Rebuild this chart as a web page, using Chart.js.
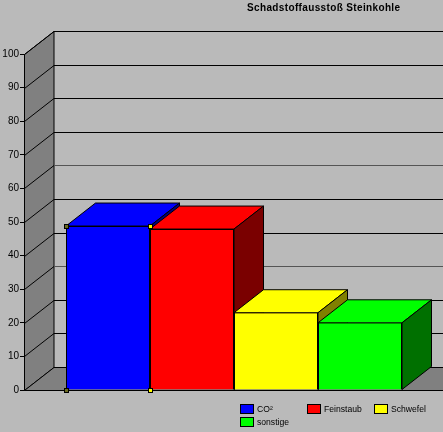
<!DOCTYPE html>
<html lang="de">
<head>
    <meta charset="UTF-8">
    <title>Schadstoffausstoß Steinkohle</title>
    <style>
      html, body { margin: 0; padding: 0; background: #bababa; overflow: hidden; }
      canvas { display: block; }
    </style>
</head>
<body>
    <canvas id="myChart" width="444" height="432"></canvas>

    <script src="https://cdn.jsdelivr.net/npm/chart.js"></script>
    <script>
      var chartTitle = 'Schadstoffausstoß Steinkohle';
      var categories = ['Steinkohle'];
      var seriesNames = ['CO²', 'Feinstaub', 'Schwefel', 'sonstige'];
      var seriesValues = [48.8, 47.9, 23, 20];
      var frontColors = ['#0000ff', '#ff0000', '#ffff00', '#00ff00'];
      var sideColors = ['#000080', '#7a0000', '#808000', '#007000'];
      var topEdgeColors = ['#000', '#000', '#a89800', '#009000'];

      // 3D look: how far the back wall sits from the front plane
      var depthX = 29.5;
      var depthY = 23;
      var wall = '#808080';
      // these two back wall lines come out paler in the reference
      var paleGrid = [30, 60];

      function poly(ctx, pts, fill) {
        ctx.beginPath();
        ctx.moveTo(pts[0][0], pts[0][1]);
        for (var i = 1; i < pts.length; i++) ctx.lineTo(pts[i][0], pts[i][1]);
        ctx.closePath();
        ctx.fillStyle = fill;
        ctx.fill();
        ctx.strokeStyle = '#000';
        ctx.lineWidth = 1;
        ctx.stroke();
      }

      var roomPlugin = {
        id: 'room',
        beforeDatasetsDraw: function (chart) {
          var ctx = chart.ctx, y = chart.scales.y, a = chart.chartArea;
          var l = a.left + 0.5, bx = l + depthX, b = y.getPixelForValue(0) + 0.5;
          var t = y.getPixelForValue(100) + 0.5;
          ctx.save();
          // side wall and floor
          poly(ctx, [[l, t], [bx, t - depthY], [bx, b - depthY], [l, b]], wall);
          poly(ctx, [[l, b], [bx, b - depthY], [a.right + 2, b - depthY], [a.right + 2, b]], wall);
          // grid lines run along the side wall and then across the back wall
          ctx.lineWidth = 1;
          y.ticks.forEach(function (tick) {
            var p = Math.round(y.getPixelForValue(tick.value)) + 0.5;
            if (tick.value === 0) return;
            ctx.strokeStyle = '#000';
            ctx.beginPath();
            ctx.moveTo(l, p);
            ctx.lineTo(bx, p - depthY);
            ctx.stroke();
            ctx.strokeStyle = paleGrid.indexOf(tick.value) >= 0 ? '#555' : '#000';
            ctx.beginPath();
            ctx.moveTo(bx, p - depthY);
            ctx.lineTo(a.right + 2, p - depthY);
            ctx.stroke();
          });
          // tops and right faces, left to right so later bars cover earlier ones
          chart.data.datasets.forEach(function (ds, i) {
            var bar = chart.getDatasetMeta(i).data[0];
            var x0 = bar.x - bar.width / 2, x1 = bar.x + bar.width / 2;
            var top = bar.y, base = bar.base;
            poly(ctx, [[x0, top], [x0 + depthX, top - depthY], [x1 + depthX, top - depthY], [x1, top]], frontColors[i]);
            poly(ctx, [[x1, top], [x1 + depthX, top - depthY], [x1 + depthX, base - depthY], [x1, base]], sideColors[i]);
          });
          ctx.restore();
        },
        afterDatasetsDraw: function (chart) {
          var ctx = chart.ctx;
          chart.data.datasets.forEach(function (ds, i) {
            var bar = chart.getDatasetMeta(i).data[0];
            ctx.fillStyle = topEdgeColors[i];
            ctx.fillRect(bar.x - bar.width / 2 + 1, Math.round(bar.y), bar.width - 2, 1);
          });
          // selection handles of the first bar
          var first = chart.getDatasetMeta(0).data[0];
          var x0 = Math.round(first.x - first.width / 2), x1 = Math.round(first.x + first.width / 2);
          [[x0, first.y, '#6b6b20'], [x1, first.y, '#ffff00'], [x0, first.base, '#6b6b20'], [x1, first.base, '#ffff00']].forEach(function (h) {
            ctx.fillStyle = '#000';
            ctx.fillRect(h[0] - 2, Math.round(h[1]) - 2, 5, 5);
            ctx.fillStyle = h[2];
            ctx.fillRect(h[0] - 1, Math.round(h[1]) - 1, 3, 3);
          });
        },
        afterDraw: function (chart) {
          var ctx = chart.ctx;
          ctx.save();
          ctx.textBaseline = 'middle';
          ctx.textAlign = 'left';
          ctx.fillStyle = '#000';
          ctx.font = 'bold 10px "Liberation Sans"';
          ctx.letterSpacing = '0.36px';
          ctx.fillText(chartTitle, 247, 8.5);
          ctx.letterSpacing = '0px';
          // legend grid: three columns
          ctx.font = '8.6px "Liberation Sans"';
          seriesNames.forEach(function (name, i) {
            var x = 240 + (i % 3) * 67, yy = 404 + Math.floor(i / 3) * 13;
            ctx.fillStyle = frontColors[i];
            ctx.fillRect(x + 0.5, yy + 0.5, 13, 9);
            ctx.strokeStyle = '#000';
            ctx.strokeRect(x + 0.5, yy + 0.5, 13, 9);
            ctx.fillStyle = '#000';
            ctx.fillText(name, x + 17, yy + 5.5);
          });
          ctx.restore();
        }
      };

      function createChart() {
        var ctx = document.getElementById('myChart').getContext('2d');
        new Chart(ctx, {
          type: 'bar',
          plugins: [roomPlugin],
          data: {
            labels: categories,
            datasets: seriesNames.map(function (name, i) {
              return {
                label: name,
                data: [seriesValues[i]],
                backgroundColor: frontColors[i],
                borderColor: '#000',
                borderWidth: 1,
                barPercentage: 1,
                categoryPercentage: 0.8
              };
            })
          },
          options: {
            responsive: false,
            animation: false,
            layout: { padding: { top: 54, bottom: 42, left: 0, right: 0 } },
            plugins: { legend: { display: false }, title: { display: false }, tooltip: { enabled: false } },
            scales: {
              x: {
                ticks: { display: false },
                grid: { display: false },
                border: { color: '#000' },
                afterFit: function (s) { s.height = 0; }
              },
              y: {
                min: 0,
                max: 100,
                ticks: { stepSize: 10, color: '#000', padding: 1, font: { family: '"Liberation Sans Narrow", "Liberation Sans"', size: 10 } },
                grid: { drawOnChartArea: false, color: '#000', tickLength: 4 },
                border: { color: '#000' },
                afterFit: function (s) { s.width = 24; }
              }
            }
          }
        });
      }

      createChart();
    </script>
</body>
</html>
